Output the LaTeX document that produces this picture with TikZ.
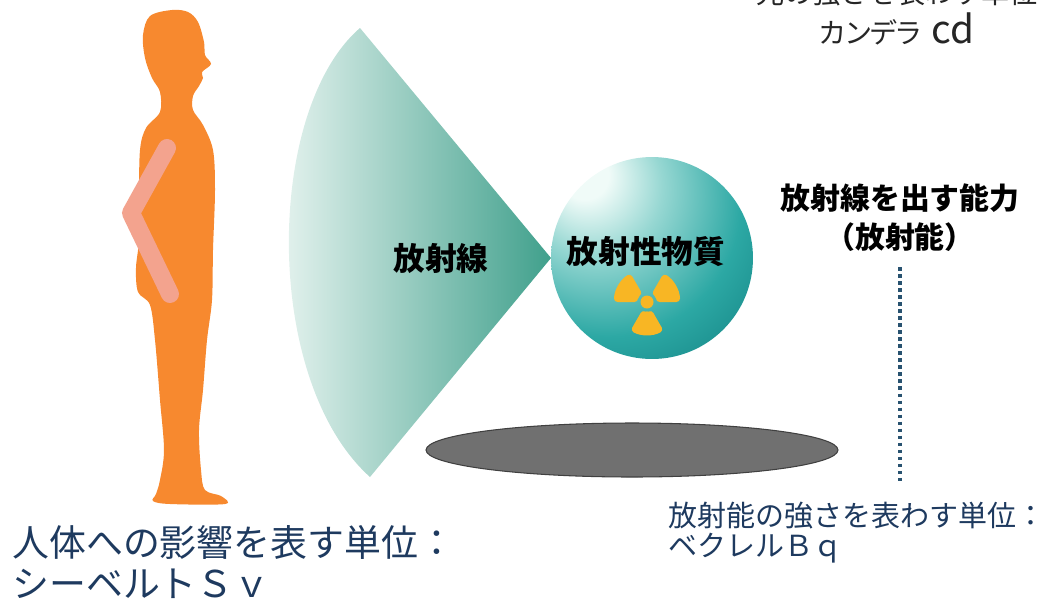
\documentclass[tikz,border=0pt]{standalone}
\usepackage{fontspec}
\newfontfamily\jp{Noto Sans CJK JP}
\usetikzlibrary{positioning}

\definecolor{skin}{RGB}{247,137,47}
\definecolor{armpink}{RGB}{243,163,142}
\definecolor{beamL}{RGB}{240,248,245}
\definecolor{beamR}{RGB}{64,160,140}
\definecolor{orbhi}{RGB}{240,251,248}
\definecolor{orblight}{RGB}{150,215,210}
\definecolor{orbmid}{RGB}{44,168,164}
\definecolor{orbdark}{RGB}{12,120,122}
\definecolor{navy}{RGB}{30,58,95}
\definecolor{floorgray}{RGB}{112,112,112}
\definecolor{dotblue}{RGB}{40,82,112}
\definecolor{trefoil}{RGB}{248,182,36}

\pgfdeclareradialshading{orb}{\pgfpoint{-18bp}{22bp}}{%
  color(0bp)=(orbhi); color(6bp)=(orbhi); color(17bp)=(orblight);
  color(33bp)=(orbmid); color(52bp)=(orbdark); color(85bp)=(orbdark)}

\begin{document}
\begin{tikzpicture}[x=0.02cm,y=-0.02cm,
	main node/.style={font=\jp\bfseries\fontsize{18pt}{22pt}\selectfont,text=black,inner sep=0pt},
	unit node/.style={font=\jp,text=navy,align=left,anchor=base west,inner sep=0pt}]
\useasboundingbox (0,0) rectangle (1050,602);
\clip (0,0) rectangle (1050,602);

% person
\fill[skin] plot[smooth cycle,tension=0.55] coordinates {
	(172,10) (150,16) (143,35) (145,58) (152,78) (160,92) (160,112)
	(146,128) (140,150) (139,200) (139,240) (136,268) (138,292) (150,305)
	(155,340) (160,400) (164,450) (160,480) (156,494) (153,501) (170,504)
	(225,504) (221,496) (205,490) (201,470) (199,430) (203,390) (207,340)
	(212,300) (213,250) (215,190) (213,150) (203,125) (193,110) (193,96)
	(199,86) (203,78) (202,72) (211,64) (205,55) (204,42) (198,22) (188,12)};
\draw[armpink,line width=0.36cm,line cap=round,line join=round]
	(167,148) -- (131,213) -- (170,294);

% beam
\coordinate (apex) at (551,258);
\shade[left color=beamL,right color=beamR]
	(360,28) -- (apex) -- (370,477)
	.. controls (262,380) and (265,110) .. (360,28) -- cycle;
\node[main node] (beam) at (441,258) {放射線};

% floor shadow
\draw[fill=floorgray,draw=black!75,line width=0.6pt] (632,450) ellipse [x radius=206,y radius=27];

% source
\node[circle,minimum size=4.04cm,shading=orb] (orb) at (652,258) {};
\node[main node] (src) at (646,252) {放射性物質};
\begin{scope}[shift={(647,302)},x=0.02cm,y=0.02cm]
	\foreach \a in {0,120,240}
		\fill[trefoil,rounded corners=2pt] (\a:9) arc[start angle=\a,end angle=\a+60,radius=9]
			-- (\a+60:33) arc[start angle=\a+60,end angle=\a,radius=33] -- cycle;
	\fill[trefoil] (0,0) circle [radius=6.5];
\end{scope}

% activity
\node[main node,font=\jp\bfseries\fontsize{17pt}{22pt}\selectfont,align=center,anchor=base] (act) at (900,248) {放射線を出す能力\\（放射能）};
\coordinate (droptop) at (900,267);
\coordinate (dropend) at (900,482);
\draw[dotblue,line width=1.8pt,dash pattern=on 2pt off 2pt] (droptop) -- (dropend);

% luminous intensity (cut at the top)
\node[main node,font=\jp\fontsize{16pt}{22.5pt}\selectfont,text=black!85,align=center,anchor=base] (cd) at (897,43)
	{光の強さを表わす単位\\{\addfontfeatures{RawFeature=+palt}カンデラ}\hspace{6pt}{\fontsize{22pt}{22pt}\selectfont cd}};

% units
\node[unit node,font=\jp\fontsize{21pt}{23pt}\selectfont] (sv) at (12,597) {人体への影響を表す単位：\\シーベルトＳｖ};
\node[unit node,font=\jp\fontsize{16.5pt}{17pt}\selectfont] (bq) at (668,556) {放射能の強さを表わす単位：\\ベクレルＢｑ};
\end{tikzpicture}
\end{document}
